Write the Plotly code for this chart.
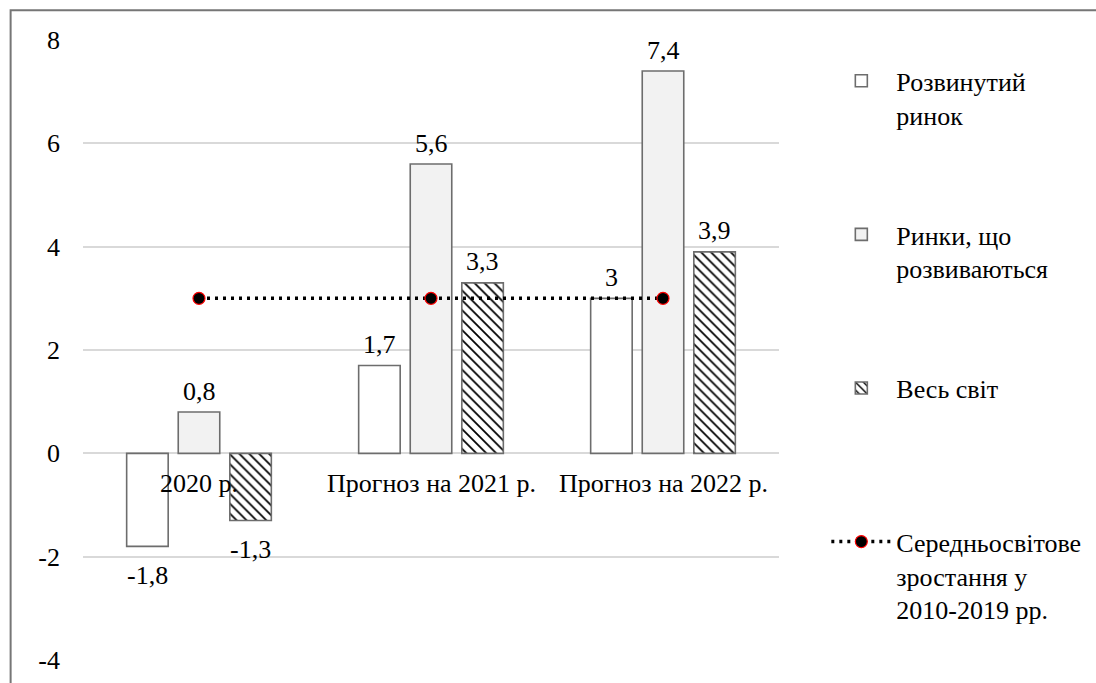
import plotly.graph_objects as go

categories = ["2020 р.", "Прогноз на 2021 р.", "Прогноз на 2022 р."]
developed = [-1.8, 1.7, 3.0]
emerging = [0.8, 5.6, 7.4]
world = [-1.3, 3.3, 3.9]
avg_growth = [3, 3, 3]

y_ticks = [-4, -2, 0, 2, 4, 6, 8]
y_ticktext = ["-4", "-2", "0", "2", "4", "6", "8"]

names = [
    "Розвинутий<br>ринок",
    "Ринки, що<br>розвиваються",
    "Весь світ<br> ",
    "Середньосвітове<br>зростання у<br>2010-2019 рр.",
]

FONT = "Liberation Serif"
FS = 26
EDGE = "#6d6d6d"


def fmt(v):
    return f"{v:g}".replace(".", ",")


fig = go.Figure()

series = [
    (developed, names[0], dict(color="white", line=dict(color=EDGE, width=1.6))),
    (emerging, names[1], dict(color="#f2f2f2", line=dict(color=EDGE, width=1.6))),
    (world, names[2], dict(
        color="white", line=dict(color=EDGE, width=1.6),
        pattern=dict(shape="\\", fgcolor="black", bgcolor="white",
                     size=7, solidity=0.25, fillmode="replace"))),
]
for i, (vals, nm, mk) in enumerate(series):
    fig.add_trace(go.Bar(
        x=categories, y=vals, name=nm, marker=mk,
        legendgroup=f"g{i}", offsetgroup=str(i),
    ))

fig.add_trace(go.Scatter(
    x=categories, y=avg_growth, name=names[3], mode="lines+markers",
    line=dict(color="black", width=3.5, dash="3px,5px"),
    marker=dict(color="black", size=12, line=dict(color="red", width=1.2)),
    legendgroup="g3",
))

# value labels: above positive bars, below negative ones
slot_px = 51.6
for i, (vals, _, _) in enumerate(series):
    for c, v in zip(categories, vals):
        fig.add_annotation(
            x=c, y=v, text=fmt(v), showarrow=False,
            xshift=(i - 1) * slot_px, yanchor="middle",
            yshift=21 if v >= 0 else -29,
            font=dict(family=FONT, size=FS, color="black"),
        )

# category labels sit just under the zero line, drawn above the bars
for c in categories:
    fig.add_annotation(x=c, y=0, text=c, showarrow=False,
                       yanchor="top", yshift=-14,
                       font=dict(family=FONT, size=FS, color="black"))

# outer chart frame
fig.add_shape(type="rect", xref="paper", yref="paper",
              x0=-0.104, x1=1.6, y0=-0.2, y1=1.048,
              line=dict(color="#767676", width=2), layer="below")

fig.update_layout(
    width=1096, height=683,
    margin=dict(l=82.5, r=317, t=40, b=23, autoexpand=False),
    paper_bgcolor="white", plot_bgcolor="white",
    font=dict(family=FONT, size=FS, color="black"),
    barmode="group", bargap=0.333, bargroupgap=0.195,
    showlegend=True,
    legend=dict(
        x=1.068, y=0.972, xanchor="left", yanchor="top",
        traceorder="grouped", tracegroupgap=83, valign="top",
        font=dict(family=FONT, size=FS, color="black"),
        itemwidth=60, bgcolor="rgba(0,0,0,0)", maxheight=683,
    ),
    xaxis=dict(
        type="category", showgrid=False, showline=False, ticks="",
        showticklabels=False,
    ),
    yaxis=dict(
        range=[-4, 8], tickvals=y_ticks, ticktext=y_ticktext,
        showgrid=True, gridcolor="#d9d9d9",
        gridwidth=1.5, zeroline=True, zerolinecolor="#d9d9d9",
        zerolinewidth=1.5, showline=False, ticks="",
        ticklabelstandoff=22,
        tickfont=dict(family=FONT, size=FS, color="black"),
    ),
)

fig.write_html("out.html")
